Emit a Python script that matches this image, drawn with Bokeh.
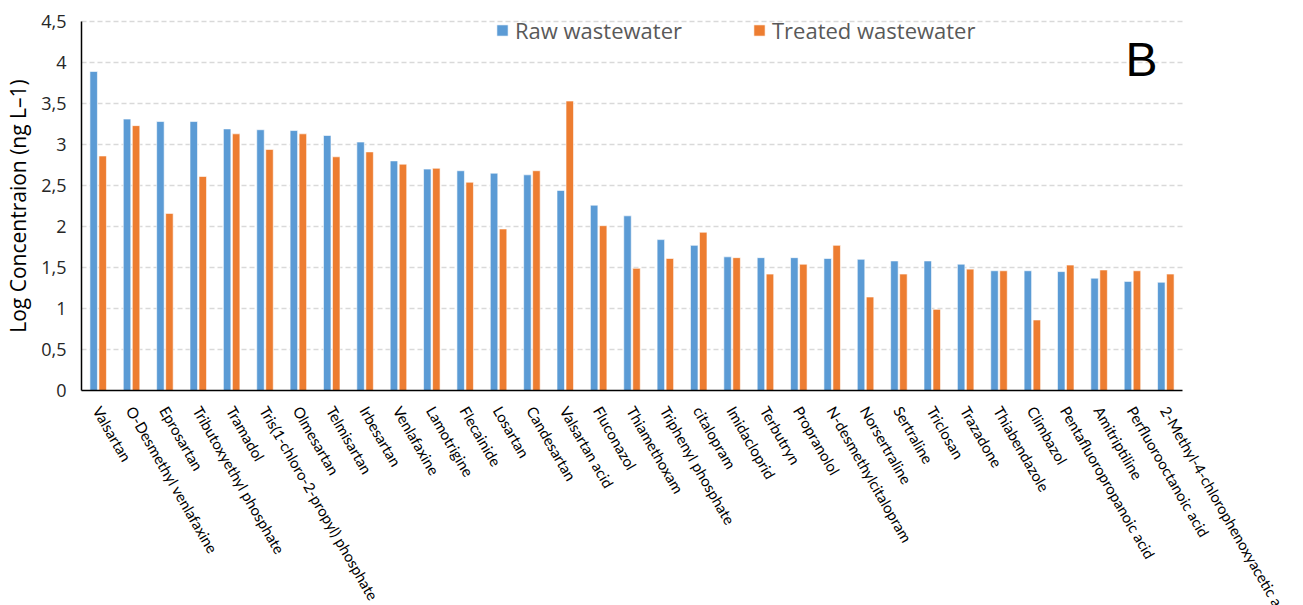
from bokeh.plotting import figure
from bokeh.models import (ColumnDataSource, Range1d, Label, LinearAxis, FixedTicker,
                          Legend, LegendItem, CustomJSTickFormatter)
from bokeh.transform import dodge
from bokeh.core.properties import value
from bokeh.embed import file_html
from bokeh.resources import INLINE

compounds = [
    "Valsartan", "O-Desmethyl venlafaxine", "Eprosartan", "Tributoxyethyl phosphate",
    "Tramadol", "Tris(1-chloro-2-propyl) phosphate", "Olmesartan", "Telmisartan",
    "Irbesartan", "Venlafaxine", "Lamotrigine", "Flecainide", "Losartan", "Candesartan",
    "Valsartan acid", "Fluconazol", "Thiamethoxam", "Triphenyl phosphate", "citalopram",
    "Imidacloprid", "Terbutryn", "Propranolol", "N-desmethylcitalopram", "Norsertraline",
    "Sertraline", "Triclosan", "Trazadone", "Thiabendazole", "Climbazol",
    "Pentafluoropropanoic acid", "Amitriptiline", "Perfluorooctanoic acid",
    "2-Methyl-4-chlorophenoxyacetic acid",
]
raw_ww = [
    3.89, 3.31, 3.28, 3.28, 3.19, 3.18, 3.17, 3.11, 3.03, 2.80, 2.70, 2.68, 2.65, 2.63,
    2.44, 2.26, 2.13, 1.84, 1.77, 1.63, 1.62, 1.62, 1.61, 1.60, 1.58, 1.58, 1.54, 1.46,
    1.46, 1.45, 1.37, 1.33, 1.32,
]
treated_ww = [
    2.86, 3.23, 2.16, 2.61, 3.13, 2.94, 3.13, 2.85, 2.91, 2.76, 2.71, 2.54, 1.97, 2.68,
    3.53, 2.01, 1.49, 1.61, 1.93, 1.62, 1.42, 1.54, 1.77, 1.14, 1.42, 0.99, 1.48, 1.46,
    0.86, 1.53, 1.47, 1.46, 1.42,
]
series_names = ["Raw wastewater", "Treated wastewater"]
y_ticks = [0, 0.5, 1, 1.5, 2, 2.5, 3, 3.5, 4, 4.5]

BLUE = "#5b9bd5"
ORANGE = "#ed7d31"
FONT = "Open Sans"
CAT_FONT = "Lato"

W, H = 1303, 605
n = len(compounds)
y_top = y_ticks[-1]

# the plot frame fills the page; the bar area is the part between the axes
AREA_L, AREA_R, AREA_T, AREA_B = 81, 1182, 21, 390
px_x = (AREA_R - AREA_L) / n
px_y = (AREA_B - AREA_T) / y_top

src = ColumnDataSource(dict(
    cat=compounds,
    xpos=[i + 0.5 for i in range(n)],
    zero=[0] * n,
    raw=raw_ww,
    treated=treated_ww,
))
grid_src = ColumnDataSource(dict(y=y_ticks[1:], x0=[0] * (len(y_ticks) - 1),
                                 x1=[n] * (len(y_ticks) - 1)))

p = figure(width=W, height=H, output_backend="svg", toolbar_location=None,
           x_range=Range1d(-AREA_L / px_x, n + (W - AREA_R) / px_x),
           y_range=Range1d(-(H - AREA_B) / px_y, y_top + AREA_T / px_y),
           x_axis_location=None,
           min_border_left=0, min_border_right=0, min_border_top=0, min_border_bottom=0,
           outline_line_color=None, background_fill_color="white")
p.xgrid.visible = False
p.ygrid.visible = False

# dashed horizontal gridlines across the bar area
p.segment(x0="x0", x1="x1", y0="y", y1="y", source=grid_src,
          line_color="#d9d9d9", line_width=1.5, line_dash="5 3")

r_raw = p.vbar(x=dodge("xpos", -0.135), top="raw", width=0.225, source=src,
               fill_color=BLUE, line_color="white", line_width=0.6)
r_trt = p.vbar(x=dodge("xpos", 0.135), top="treated", width=0.225, source=src,
               fill_color=ORANGE, line_color="white", line_width=0.6)

# value axis, pinned at the left edge of the bar area
ya = p.yaxis[0]
ya.fixed_location = 0
ya.bounds = (0, y_top)
ya.ticker = FixedTicker(ticks=y_ticks)
ya.formatter = CustomJSTickFormatter(code="return String(tick).replace('.', ',');")
ya.axis_label = "Log Concentraion (ng L\u20131)"
ya.axis_label_text_font = FONT
ya.axis_label_text_font_style = "normal"
ya.axis_label_text_font_size = "21px"
ya.axis_label_text_color = "black"
ya.axis_label_standoff = 6
ya.major_label_text_font = FONT
ya.major_label_text_font_size = "18px"
ya.major_label_text_color = "#262626"
ya.major_label_standoff = 15
ya.major_tick_line_color = None
ya.major_tick_out = 0
ya.major_tick_in = 0
ya.minor_tick_line_color = None
ya.minor_tick_out = 0
ya.minor_tick_in = 0
ya.axis_line_color = "black"
ya.axis_line_width = 1.5

# category axis line along zero
xa = LinearAxis(fixed_location=0, bounds=(0, n), ticker=FixedTicker(ticks=[]),
                major_tick_line_color=None, minor_tick_line_color=None,
                major_label_text_color=None, axis_line_color="black", axis_line_width=1.5)
p.add_layout(xa, "below")

# rotated compound names under the axis
p.text(x="xpos", y="zero", text="cat", source=src, angle=-60, angle_units="deg",
       x_offset=-1, y_offset=17, text_align="left", text_baseline="middle",
       text_font=value(CAT_FONT), text_font_size="15px", text_color="black")

legend = Legend(items=[LegendItem(label=series_names[0], renderers=[r_raw]),
                       LegendItem(label=series_names[1], renderers=[r_trt])],
                orientation="horizontal", location=(495, 560),
                glyph_width=14, glyph_height=14, label_standoff=6, spacing=70,
                padding=0, margin=0, border_line_color=None, background_fill_alpha=0,
                label_text_font=FONT, label_text_font_size="22px",
                label_text_color="#595959")
p.add_layout(legend)

p.add_layout(Label(x=1125, y=546, x_units="screen", y_units="screen", text="B",
                   text_font="Liberation Sans", text_font_size="48px",
                   text_color="black", text_baseline="alphabetic"))
p.add_layout(Label(x=20, y=7, x_units="screen", y_units="screen", text="100%",
                   text_font=FONT, text_font_size="20px", text_color="black",
                   text_baseline="top"))

open("out.html", "w").write(file_html(p, INLINE))
